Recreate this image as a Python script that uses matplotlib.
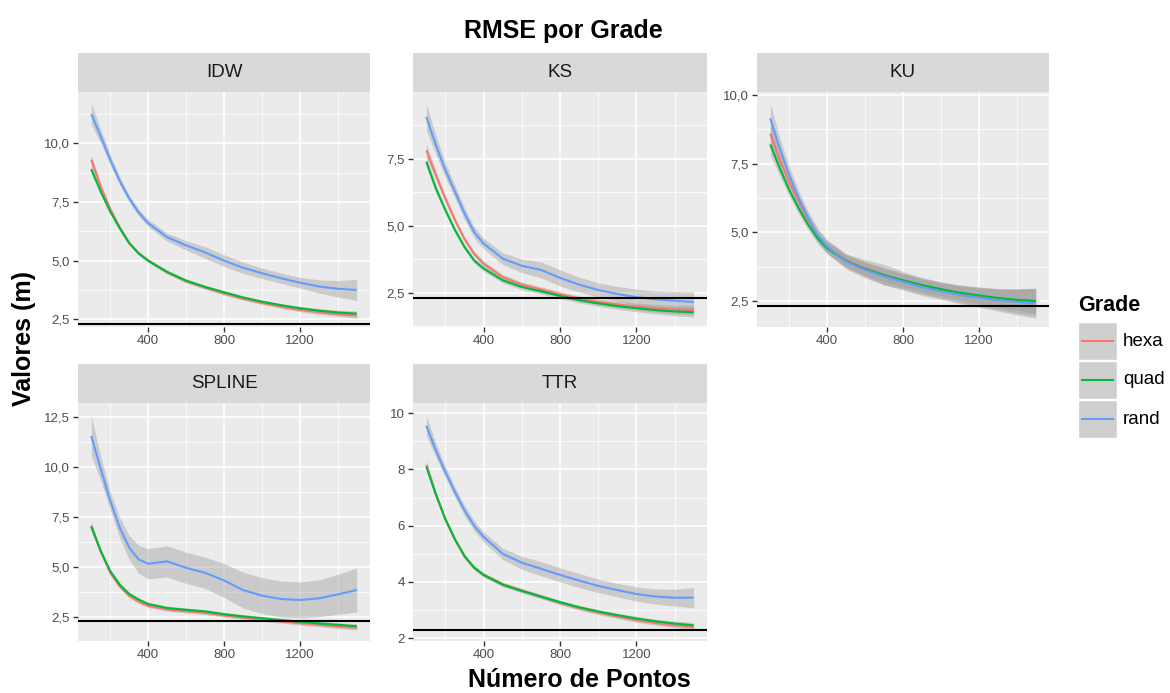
import matplotlib

matplotlib.use("Agg")
import matplotlib.pyplot as plt  # noqa: E402
from matplotlib.patches import Rectangle  # noqa: E402
from matplotlib.lines import Line2D  # noqa: E402
from matplotlib.ticker import FixedLocator, FuncFormatter  # noqa: E402

plt.rcParams["font.family"] = ["Liberation Sans", "DejaVu Sans"]

W, H = 1170, 693
PANEL_BG, STRIP_BG, RIBBON, KEY_BG = "#EBEBEB", "#D9D9D9", "#999999", "#CFCFCF"
TICK_INK, LABEL_INK, STRIP_INK = "#333333", "#4D4D4D", "#1A1A1A"
COLORS = {"hexa": "#F8766D", "quad": "#00BA38", "rand": "#619CFF"}
GRADES = ["hexa", "quad", "rand"]
LIMIAR = 2.3  # linha de referência

N_PONTOS = [100, 150, 200, 250, 300, 350, 400, 500, 600, 700,
            800, 900, 1000, 1100, 1200, 1300, 1400, 1500]

# curvas suavizadas (média) e meia-largura da faixa de confiança
IDW_HEXA = [9.3, 8.15, 7.2, 6.42, 5.76, 5.31, 5.0, 4.5, 4.12, 3.85, 3.6, 3.38, 3.2, 3.04, 2.9, 2.8, 2.72, 2.66]
IDW_HEXA_SE = [0.22, 0.13, 0.09, 0.08, 0.07, 0.07, 0.07, 0.07, 0.07, 0.07, 0.07, 0.07, 0.07, 0.07, 0.08, 0.09, 0.1, 0.12]
IDW_QUAD = [8.9, 7.94, 7.09, 6.38, 5.74, 5.31, 5.0, 4.52, 4.15, 3.88, 3.65, 3.43, 3.25, 3.1, 2.97, 2.87, 2.79, 2.74]
IDW_QUAD_SE = [0.2, 0.12, 0.09, 0.08, 0.07, 0.07, 0.07, 0.07, 0.07, 0.07, 0.07, 0.07, 0.07, 0.07, 0.08, 0.09, 0.1, 0.12]
IDW_RAND = [11.25, 10.3, 9.3, 8.4, 7.65, 7.05, 6.6, 6.0, 5.65, 5.35, 5.0, 4.7, 4.46, 4.25, 4.06, 3.9, 3.8, 3.75]
IDW_RAND_SE = [0.45, 0.3, 0.22, 0.17, 0.15, 0.15, 0.15, 0.17, 0.2, 0.25, 0.25, 0.24, 0.22, 0.22, 0.23, 0.28, 0.35, 0.45]

KS_HEXA = [7.81, 6.88, 6.0, 5.2, 4.5, 3.95, 3.58, 3.08, 2.8, 2.62, 2.44, 2.28, 2.16, 2.06, 1.98, 1.92, 1.87, 1.85]
KS_HEXA_SE = [0.25, 0.16, 0.12, 0.1, 0.1, 0.1, 0.1, 0.1, 0.1, 0.1, 0.1, 0.1, 0.11, 0.12, 0.13, 0.14, 0.16, 0.18]
KS_QUAD = [7.38, 6.38, 5.57, 4.83, 4.2, 3.7, 3.4, 2.96, 2.71, 2.55, 2.38, 2.22, 2.1, 2.0, 1.92, 1.85, 1.8, 1.77]
KS_QUAD_SE = [0.22, 0.15, 0.12, 0.1, 0.1, 0.1, 0.1, 0.1, 0.1, 0.1, 0.1, 0.1, 0.11, 0.12, 0.13, 0.14, 0.16, 0.18]
KS_RAND = [9.05, 8.0, 7.06, 6.26, 5.45, 4.76, 4.33, 3.77, 3.5, 3.35, 3.05, 2.8, 2.6, 2.45, 2.33, 2.25, 2.2, 2.15]
KS_RAND_SE = [0.5, 0.35, 0.28, 0.24, 0.22, 0.2, 0.2, 0.22, 0.25, 0.3, 0.3, 0.28, 0.27, 0.28, 0.3, 0.31, 0.34, 0.38]

KU_HEXA = [8.6, 7.63, 6.84, 6.12, 5.45, 4.88, 4.48, 3.97, 3.7, 3.45, 3.25, 3.05, 2.9, 2.76, 2.66, 2.57, 2.5, 2.45]
KU_HEXA_SE = [0.45, 0.32, 0.26, 0.24, 0.22, 0.22, 0.22, 0.25, 0.3, 0.38, 0.32, 0.3, 0.3, 0.32, 0.35, 0.38, 0.44, 0.5]
KU_QUAD = [8.2, 7.33, 6.54, 5.87, 5.27, 4.78, 4.42, 3.95, 3.66, 3.44, 3.25, 3.08, 2.93, 2.8, 2.7, 2.61, 2.54, 2.5]
KU_QUAD_SE = [0.4, 0.28, 0.22, 0.2, 0.2, 0.2, 0.2, 0.22, 0.24, 0.25, 0.25, 0.25, 0.25, 0.27, 0.3, 0.33, 0.38, 0.45]
KU_RAND = [9.15, 8.06, 7.09, 6.24, 5.51, 4.9, 4.48, 3.93, 3.63, 3.4, 3.2, 3.0, 2.85, 2.72, 2.62, 2.53, 2.46, 2.42]
KU_RAND_SE = [0.55, 0.38, 0.3, 0.27, 0.25, 0.25, 0.25, 0.27, 0.3, 0.3, 0.3, 0.3, 0.3, 0.32, 0.35, 0.4, 0.47, 0.55]

SPLINE_HEXA = [7.05, 5.75, 4.7, 4.02, 3.55, 3.26, 3.05, 2.87, 2.78, 2.7, 2.57, 2.46, 2.36, 2.27, 2.18, 2.1, 2.02, 1.95]
SPLINE_HEXA_SE = [0.2, 0.13, 0.1, 0.09, 0.09, 0.09, 0.09, 0.09, 0.09, 0.09, 0.09, 0.09, 0.09, 0.09, 0.1, 0.1, 0.11, 0.12]
SPLINE_QUAD = [7.0, 5.79, 4.78, 4.11, 3.64, 3.36, 3.14, 2.94, 2.85, 2.77, 2.63, 2.52, 2.43, 2.34, 2.25, 2.17, 2.1, 2.03]
SPLINE_QUAD_SE = [0.2, 0.13, 0.1, 0.09, 0.09, 0.09, 0.09, 0.09, 0.09, 0.09, 0.09, 0.09, 0.09, 0.09, 0.1, 0.1, 0.11, 0.12]
SPLINE_RAND = [11.54, 9.9, 8.3, 6.96, 5.96, 5.37, 5.15, 5.27, 4.95, 4.7, 4.32, 3.84, 3.56, 3.39, 3.34, 3.42, 3.62, 3.84]
SPLINE_RAND_SE = [1.0, 0.6, 0.45, 0.5, 0.6, 0.7, 0.75, 0.78, 0.78, 0.78, 0.85, 0.9, 0.9, 0.9, 0.9, 0.92, 1.0, 1.1]

TTR_HEXA = [8.15, 7.12, 6.22, 5.5, 4.9, 4.5, 4.25, 3.92, 3.7, 3.48, 3.26, 3.07, 2.91, 2.77, 2.64, 2.54, 2.46, 2.4]
TTR_HEXA_SE = [0.15, 0.1, 0.08, 0.07, 0.07, 0.07, 0.07, 0.07, 0.07, 0.07, 0.07, 0.07, 0.07, 0.07, 0.08, 0.08, 0.09, 0.1]
TTR_QUAD = [8.1, 7.1, 6.22, 5.51, 4.92, 4.51, 4.25, 3.9, 3.68, 3.48, 3.28, 3.1, 2.95, 2.82, 2.7, 2.6, 2.52, 2.46]
TTR_QUAD_SE = [0.15, 0.1, 0.08, 0.07, 0.07, 0.07, 0.07, 0.07, 0.07, 0.07, 0.07, 0.07, 0.07, 0.07, 0.08, 0.08, 0.09, 0.1]
TTR_RAND = [9.55, 8.67, 7.9, 7.19, 6.54, 6.0, 5.6, 5.0, 4.68, 4.47, 4.25, 4.05, 3.86, 3.71, 3.57, 3.48, 3.44, 3.44]
TTR_RAND_SE = [0.35, 0.25, 0.2, 0.18, 0.18, 0.18, 0.18, 0.2, 0.23, 0.25, 0.25, 0.25, 0.24, 0.24, 0.25, 0.27, 0.3, 0.36]

X_TICKS = [400, 800, 1200]
X_MINOR = [200, 600, 1000, 1400]
X_LIM = (30, 1570)

# (nome, séries, caixa do painel em px: x0, y0, x1, y1, limites y, ticks y, casas decimais)
PANELS = [
    ("IDW", {"hexa": (IDW_HEXA, IDW_HEXA_SE), "quad": (IDW_QUAD, IDW_QUAD_SE), "rand": (IDW_RAND, IDW_RAND_SE)},
     (78, 92, 370, 327), (2.17, 12.19), [2.5, 5.0, 7.5, 10.0], 1),
    ("KS", {"hexa": (KS_HEXA, KS_HEXA_SE), "quad": (KS_QUAD, KS_QUAD_SE), "rand": (KS_RAND, KS_RAND_SE)},
     (413, 92, 707, 327), (1.22, 9.98), [2.5, 5.0, 7.5], 1),
    ("KU", {"hexa": (KU_HEXA, KU_HEXA_SE), "quad": (KU_QUAD, KU_QUAD_SE), "rand": (KU_RAND, KU_RAND_SE)},
     (757, 92, 1049, 327), (1.55, 10.11), [2.5, 5.0, 7.5, 10.0], 1),
    ("SPLINE", {"hexa": (SPLINE_HEXA, SPLINE_HEXA_SE), "quad": (SPLINE_QUAD, SPLINE_QUAD_SE),
                "rand": (SPLINE_RAND, SPLINE_RAND_SE)},
     (78, 403, 370, 641), (1.29, 13.19), [2.5, 5.0, 7.5, 10.0, 12.5], 1),
    ("TTR", {"hexa": (TTR_HEXA, TTR_HEXA_SE), "quad": (TTR_QUAD, TTR_QUAD_SE), "rand": (TTR_RAND, TTR_RAND_SE)},
     (413, 403, 707, 641), (1.9, 10.36), [2, 4, 6, 8, 10], 0),
]
STRIP_H = 39


def px_axes(fig, x0, y0, x1, y1):
    return fig.add_axes([x0 / W, 1 - y1 / H, (x1 - x0) / W, (y1 - y0) / H])


def comma(decimals):
    return FuncFormatter(lambda v, _: f"{v:.{decimals}f}".replace(".", ","))


fig = plt.figure(figsize=(W / 100, H / 100), dpi=100)
fig.patch.set_facecolor("white")

for name, series, (x0, y0, x1, y1), ylim, yticks, dec in PANELS:
    strip = px_axes(fig, x0, y0 - STRIP_H, x1, y0)
    strip.set_facecolor(STRIP_BG)
    strip.set_xticks([])
    strip.set_yticks([])
    for s in strip.spines.values():
        s.set_visible(False)
    strip.text(0.5, 0.5, name, ha="center", va="center", fontsize=13.5, color=STRIP_INK,
               transform=strip.transAxes)

    ax = px_axes(fig, x0, y0, x1, y1)
    ax.set_facecolor(PANEL_BG)
    for s in ax.spines.values():
        s.set_visible(False)
    step = yticks[1] - yticks[0]
    yminor = [t + step / 2 for t in [yticks[0] - step] + yticks]
    yminor = [t for t in yminor if ylim[0] < t < ylim[1]]
    ax.xaxis.set_major_locator(FixedLocator(X_TICKS))
    ax.xaxis.set_minor_locator(FixedLocator(X_MINOR))
    ax.yaxis.set_major_locator(FixedLocator(yticks))
    ax.yaxis.set_minor_locator(FixedLocator(yminor))
    ax.yaxis.set_major_formatter(comma(dec))
    ax.grid(which="major", color="white", linewidth=1.1)
    ax.grid(which="minor", color="white", linewidth=0.55)
    ax.set_axisbelow(True)
    ax.tick_params(which="major", length=3.5, width=1.0, color=TICK_INK, labelcolor=LABEL_INK,
                   labelsize=9.5, pad=2.5)
    ax.tick_params(which="minor", length=0)

    for g in GRADES:
        mean, se = series[g]
        lo = [m - e for m, e in zip(mean, se)]
        hi = [m + e for m, e in zip(mean, se)]
        ax.fill_between(N_PONTOS, lo, hi, color=RIBBON, alpha=0.4, linewidth=0)
        ax.plot(N_PONTOS, mean, color=COLORS[g], linewidth=1.5, solid_capstyle="butt",
                solid_joinstyle="round")
    ax.axhline(LIMIAR, color="black", linewidth=1.5)
    ax.set_xlim(*X_LIM)
    ax.set_ylim(*ylim)

fig.text(563 / W, 1 - 38 / H, "RMSE por Grade", ha="center", va="baseline",
         fontsize=18, fontweight="bold")
fig.text(579 / W, 1 / H, "Número de Pontos", ha="center", va="bottom",
         fontsize=18, fontweight="bold")
fig.text(24 / W, 1 - 338 / H, "Valores (m)", ha="center", va="center", rotation=90,
         fontsize=18, fontweight="bold")

# legenda desenhada à mão, no estilo das chaves do ggplot
leg = px_axes(fig, 1078, 322, 1117, 439)
leg.set_xlim(0, 39)
leg.set_ylim(117, 0)
leg.axis("off")
for i, g in enumerate(GRADES):
    top = i * 39
    leg.add_patch(Rectangle((0, top), 39, 38, facecolor=KEY_BG, edgecolor="white", linewidth=1))
    leg.add_line(Line2D([4, 35], [top + 19, top + 19], color=COLORS[g], linewidth=1.5))
    fig.text(1123 / W, 1 - (322 + top + 19) / H, g, ha="left", va="center", fontsize=13.5,
             color="black")
fig.text(1078 / W, 1 - 306 / H, "Grade", ha="left", va="center", fontsize=15.5,
         fontweight="bold")

fig.savefig("out.png", dpi=100)
